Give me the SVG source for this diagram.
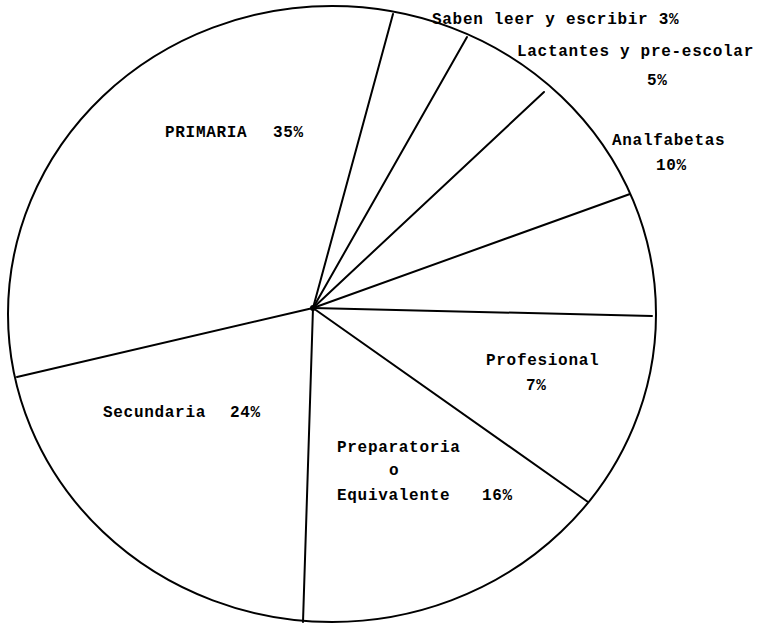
<svg xmlns="http://www.w3.org/2000/svg" width="762" height="623" viewBox="0 0 762 623">
<style>
.ln{stroke:#000;stroke-width:2;fill:none;stroke-linecap:round}
.t{font-family:"Liberation Mono","Courier New",monospace;font-size:16px;font-weight:bold;letter-spacing:0.7px;fill:#000}
</style>
<rect width="762" height="623" fill="#fff"/>
<g id="pie">
<ellipse class="ln" cx="332" cy="314" rx="324" ry="308"/>
</g>
<g id="dividers">
<line class="ln" x1="313" y1="308" x2="393" y2="14"/>
<line class="ln" x1="313" y1="308" x2="467" y2="37"/>
<line class="ln" x1="313" y1="308" x2="544" y2="92"/>
<line class="ln" x1="313" y1="308" x2="630" y2="194"/>
<line class="ln" x1="313" y1="308" x2="652" y2="316"/>
<line class="ln" x1="313" y1="308" x2="588" y2="502"/>
<line class="ln" x1="313" y1="308" x2="303" y2="622"/>
<line class="ln" x1="313" y1="308" x2="17" y2="377"/>
<circle cx="313" cy="308" r="3" fill="#000"/>
</g>
<g id="saben"><text class="t" x="432" y="24">Saben leer y escribir 3%</text></g>
<g id="lactantes"><text class="t" x="517" y="56">Lactantes y pre-escolar</text><text class="t" x="647" y="85">5%</text></g>
<g id="analfabetas"><text class="t" x="612" y="145">Analfabetas</text><text class="t" x="656" y="170">10%</text></g>
<g id="primaria"><text class="t" x="165" y="137">PRIMARIA</text><text class="t" x="273" y="137">35%</text></g>
<g id="profesional"><text class="t" x="486" y="365">Profesional</text><text class="t" x="526" y="390">7%</text></g>
<g id="preparatoria"><text class="t" x="337" y="452">Preparatoria</text><text class="t" x="389" y="475">o</text><text class="t" x="337" y="500">Equivalente</text><text class="t" x="482" y="500">16%</text></g>
<g id="secundaria"><text class="t" x="103" y="417">Secundaria</text><text class="t" x="230" y="417">24%</text></g>
</svg>
